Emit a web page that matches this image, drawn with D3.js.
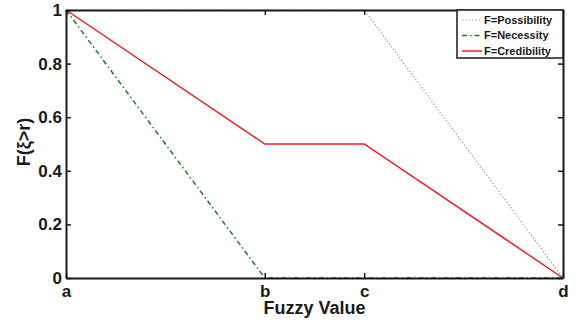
<!DOCTYPE html>
<html>
<head>
<meta charset="utf-8">
<script src="https://cdn.jsdelivr.net/npm/d3@7"></script>
<style>
  body { margin: 0; background: #fff; }
  text { font-family: "Liberation Sans", Arial, sans-serif; font-weight: bold; fill: #1a1a1a; }
</style>
</head>
<body>
<div id="chart"></div>
<script>
// x positions of the fuzzy points a, b, c, d (relative scale)
var xTickLabels = ["a", "b", "c", "d"];
var xTickValues = [0, 0.4, 0.6, 1];
var yTickValues = [0, 0.2, 0.4, 0.6, 0.8, 1];

var possibility = [[0, 1], [0.6, 1], [1, 0]];
var necessity   = [[0, 1], [0.4, 0], [1, 0]];
var credibility = [[0, 1], [0.4, 0.5], [0.6, 0.5], [1, 0]];

var seriesNames = ["F=Possibility", "F=Necessity", "F=Credibility"];

var W = 575, H = 327;
var margin = {top: 10, right: 12, bottom: 49, left: 66},
    width = W - margin.left - margin.right,
    height = H - margin.top - margin.bottom;

var svg = d3.select("#chart").append("svg").attr("width", W).attr("height", H);
var g = svg.append("g").attr("transform", "translate(" + margin.left + "," + margin.top + ")");

var x = d3.scaleLinear().domain([0, 1]).range([0, width]);
var y = d3.scaleLinear().domain([0, 1]).range([height, 0]);

var line = d3.line().x(function(d) { return x(d[0]); }).y(function(d) { return y(d[1]); });

// series
var styles = [
  {data: possibility, color: "#8a8ad8", width: 1.2, dash: "1.2,2.2"},
  {data: necessity,   color: "#1a7f2a", width: 1.5, dash: "5,3,1.5,3"},
  {data: credibility, color: "#ee1c24", width: 1.5, dash: null}
];
styles.forEach(function(s) {
  g.append("path").datum(s.data).attr("d", line)
    .style("fill", "none").style("stroke", s.color)
    .style("stroke-width", s.width)
    .style("stroke-dasharray", s.dash);
});

// axes (MATLAB style: inward ticks, box)
var axisColor = "#1a1a1a";
var xAxis = d3.axisBottom(x).tickValues(xTickValues)
  .tickFormat(function(d, i) { return xTickLabels[i]; }).tickSizeInner(-5).tickSizeOuter(0).tickPadding(10);
var yAxis = d3.axisLeft(y).tickValues(yTickValues)
  .tickFormat(function(d) { return d === 0 || d === 1 ? d3.format("d")(d) : d3.format(".1f")(d); })
  .tickSizeInner(-5).tickSizeOuter(0).tickPadding(4);

var gx = g.append("g").attr("transform", "translate(0," + height + ")").call(xAxis);
var gy = g.append("g").call(yAxis);
var gxt = g.append("g").call(d3.axisTop(x).tickValues(xTickValues).tickFormat("").tickSizeInner(-5).tickSizeOuter(0));
var gyr = g.append("g").attr("transform", "translate(" + width + ",0)")
  .call(d3.axisRight(y).tickValues(yTickValues).tickFormat("").tickSizeInner(-5).tickSizeOuter(0));

[gx, gy, gxt, gyr].forEach(function(a) {
  a.select(".domain").style("stroke", axisColor).style("stroke-width", 2);
  a.selectAll(".tick line").style("stroke", axisColor).style("stroke-width", 1.5);
  a.selectAll(".tick text").style("font-size", "17px").style("font-family", "Liberation Sans, Arial, sans-serif")
    .style("font-weight", "bold").style("fill", "#1a1a1a");
});
gx.selectAll(".tick text").attr("dy", "0.5em");

// axis labels
svg.append("text").attr("x", margin.left + width / 2).attr("y", 314)
  .attr("text-anchor", "middle").style("font-size", "18px").text("Fuzzy Value");
svg.append("text").attr("transform", "translate(30,142) rotate(-90)")
  .attr("text-anchor", "middle").style("font-size", "18px").text("F(ξ>r)");

// legend
var lg = svg.append("g").attr("transform", "translate(457,10)");
lg.append("rect").attr("width", 106).attr("height", 48)
  .style("fill", "#fff").style("stroke", axisColor).style("stroke-width", 1.5);
styles.forEach(function(s, i) {
  var yy = 10 + i * 15.5;
  lg.append("line").attr("x1", 5).attr("x2", 25).attr("y1", yy).attr("y2", yy)
    .style("stroke", s.color).style("stroke-width", s.width).style("stroke-dasharray", s.dash);
  lg.append("text").attr("x", 27).attr("y", yy).attr("dy", "0.36em")
    .style("font-size", "11px").text(seriesNames[i]);
});
</script>
</body>
</html>
